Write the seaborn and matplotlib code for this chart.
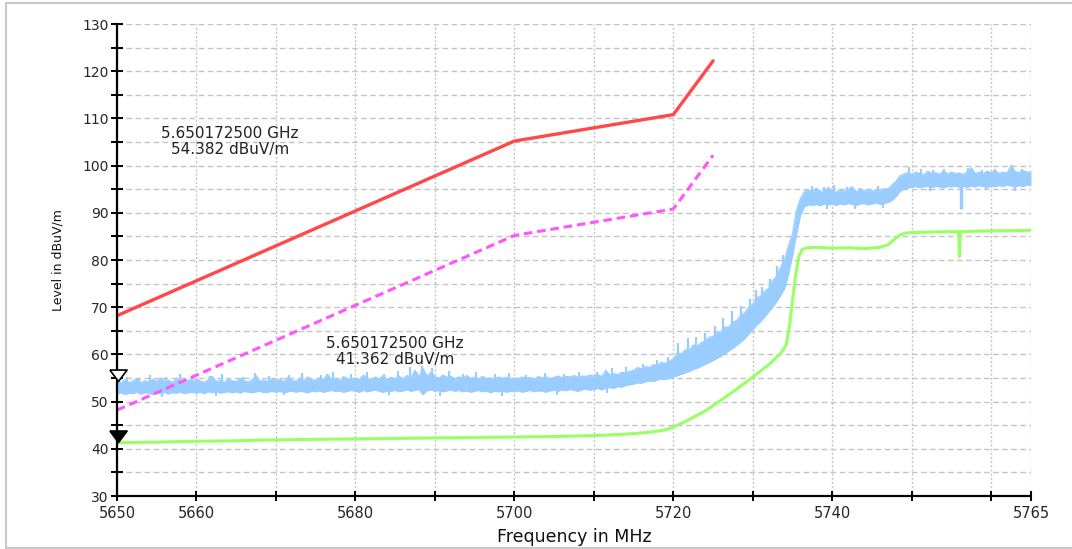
import numpy as np
import pandas as pd
import matplotlib
matplotlib.use("Agg")
import matplotlib.pyplot as plt
from matplotlib.lines import Line2D
from matplotlib.ticker import FixedLocator, MultipleLocator
import seaborn as sns

# ---- limit lines (peak / average) ----
limit_freq = [5650, 5700, 5720, 5725]
peak_limit = [68.2, 105.2, 110.8, 122.2]
avg_limit = [48.2, 85.2, 90.8, 102.2]

# ---- peak detector trace: upper / lower envelope, 0.5 MHz steps 5650..5765 MHz ----
peak_freq = np.arange(5650.0, 5765.01, 0.5)
peak_hi = [
    54.2, 53.9, 54.6, 54.0, 54.3, 54.8, 53.9, 54.4, 54.1, 54.7,
    54.3, 55.0, 54.2, 54.5, 54.0, 54.9, 54.3, 54.1, 54.6, 54.2,
    54.8, 54.3, 54.1, 54.6, 55.3, 54.2, 54.5, 54.0, 54.7, 54.4,
    54.2, 54.9, 54.4, 54.1, 54.6, 55.5, 54.3, 54.5, 54.2, 54.8,
    54.4, 54.7, 54.2, 55.1, 54.5, 54.3, 54.9, 54.4, 55.2, 54.6,
    54.5, 55.0, 54.7, 55.8, 54.6, 54.9, 54.4, 55.3, 54.8, 54.6,
    55.0, 54.7, 55.6, 54.9, 54.6, 55.2, 54.8, 55.4, 54.7, 55.1,
    54.9, 55.3, 54.8, 55.5, 55.0, 56.6, 55.2, 57.0, 55.4, 56.2,
    55.3, 54.9, 55.6, 55.1, 55.4, 54.8, 55.2, 55.0, 55.5, 54.9,
    55.1, 54.8, 55.3, 54.9, 55.0, 54.7, 55.2, 54.9, 55.1, 54.8,
    55.0, 54.8, 55.2, 54.9, 55.1, 54.7, 55.3, 55.0, 55.2, 54.9,
    55.1, 55.4, 55.0, 55.3, 55.2, 55.5, 55.1, 55.4, 55.3, 55.6,
    55.4, 55.7, 55.3, 56.6, 55.6, 55.9, 55.7, 56.2, 56.0, 56.4,
    56.6, 57.2, 56.9, 57.4, 57.2, 57.8, 57.6, 58.3, 58.0, 58.6,
    59.0, 60.4, 60.0, 61.0, 60.8, 62.0, 61.6, 62.5, 62.8, 63.6,
    63.8, 64.6, 64.8, 65.8, 65.8, 66.8, 67.2, 68.3, 68.8, 70.0,
    70.6, 72.0, 72.3, 73.4, 74.0, 75.6, 76.6, 78.4, 80.0, 83.0,
    85.5, 90.5, 93.0, 94.5, 94.8, 94.3, 95.2, 94.5, 94.2, 95.4,
    94.6, 94.3, 95.0, 94.5, 94.9, 95.5, 94.4, 94.8, 94.6, 95.0,
    94.5, 94.9, 94.6, 95.1, 95.0, 95.9, 96.6, 97.8, 98.2, 98.5,
    98.1, 98.6, 98.3, 98.0, 98.8, 98.3, 98.5, 98.1, 98.9, 98.2,
    98.6, 98.3, 98.4, 98.1, 98.7, 99.5, 98.3, 98.6, 98.2, 98.8,
    98.5, 98.9, 98.3, 98.6, 98.4, 100.0, 98.7, 98.5, 98.9, 98.6,
    98.7,
]
peak_lo = [
    51.6, 51.9, 51.5, 51.8, 51.7, 52.0, 51.6, 51.9, 51.8, 51.5,
    51.9, 51.7, 52.0, 51.6, 51.9, 51.8, 52.1, 51.7, 51.9, 52.0,
    51.8, 52.0, 51.7, 52.1, 51.9, 52.2, 51.8, 52.0, 52.1, 51.9,
    52.1, 51.8, 52.2, 52.0, 51.9, 52.1, 52.2, 51.9, 52.0, 52.2,
    52.0, 52.2, 51.9, 52.1, 52.3, 52.0, 52.2, 52.1, 51.9, 52.2,
    52.1, 52.3, 52.0, 52.2, 52.4, 52.1, 52.3, 52.0, 52.2, 52.4,
    52.2, 52.0, 52.4, 52.1, 52.3, 52.5, 52.2, 52.0, 52.3, 52.2,
    52.4, 52.1, 52.3, 52.5, 52.2, 52.4, 52.6, 51.5, 52.3, 52.5,
    52.2, 52.4, 52.1, 52.3, 52.5, 52.2, 52.4, 52.1, 52.3, 52.0,
    52.2, 52.4, 52.1, 52.3, 51.9, 52.2, 52.1, 52.3, 52.0, 52.2,
    52.1, 52.3, 52.0, 52.2, 52.4, 52.1, 52.3, 52.2, 52.0, 52.3,
    52.4, 52.2, 52.5, 52.3, 52.6, 52.4, 52.2, 52.5, 52.7, 52.4,
    52.6, 52.8, 52.5, 52.9, 53.0, 52.8, 53.2, 53.1, 53.4, 53.6,
    53.7, 54.0, 53.9, 54.2, 54.4, 54.3, 54.6, 54.8, 54.7, 55.0,
    55.2, 55.5, 55.8, 56.1, 56.4, 56.8, 57.1, 57.5, 57.9, 58.3,
    58.7, 59.2, 59.6, 60.2, 60.8, 61.3, 62.0, 62.6, 63.4, 64.3,
    65.3, 66.2, 67.0, 68.0, 69.0, 70.0, 71.2, 72.5, 74.0, 77.0,
    81.0, 85.5, 89.5, 91.3, 91.7, 91.6, 91.8, 91.5, 91.9, 91.7,
    91.8, 91.6, 91.9, 91.7, 92.0, 91.8, 91.6, 91.9, 92.0, 91.7,
    91.9, 92.1, 91.8, 92.0, 92.2, 92.6, 93.4, 94.5, 95.0, 95.3,
    95.4, 95.6, 95.3, 95.5, 95.7, 95.4, 95.6, 95.5, 95.3, 95.6,
    95.5, 95.7, 95.4, 95.6, 95.4, 95.7, 95.5, 95.8, 95.6, 95.4,
    95.7, 95.5, 95.8, 95.6, 95.9, 95.7, 95.5, 95.8, 95.6, 95.9,
    95.8,
]

# single-sweep spikes above the peak envelope
spike_up_freq = [5651.3, 5652.8, 5654.1, 5656.2, 5657.9, 5659.4, 5661.7, 5663.2, 5665.8, 5667.4,
                 5669.1, 5671.6, 5673.3, 5675.7, 5677.2, 5679.5, 5681.4, 5683.6, 5685.3, 5686.9,
                 5688.4, 5689.6, 5691.8, 5693.5, 5695.2, 5697.6, 5699.3, 5701.5, 5703.8, 5706.2,
                 5708.1, 5710.4, 5712.3, 5714.1, 5716.2, 5717.9, 5719.3, 5720.6, 5721.8, 5722.9,
                 5724.0, 5725.2, 5726.3, 5727.4, 5728.5, 5729.6, 5730.4, 5731.2, 5732.1, 5733.0,
                 5733.8, 5737.4, 5738.9, 5740.2, 5741.9, 5743.5, 5745.8, 5749.6, 5751.2, 5752.7,
                 5754.0, 5757.1, 5758.8, 5760.5, 5762.6, 5763.9]
spike_up_level = [55.3, 55.0, 55.6, 55.2, 55.8, 55.1, 55.5, 55.9, 55.3, 56.0,
                  55.4, 55.7, 56.1, 55.6, 56.3, 55.8, 56.2, 55.9, 56.5, 57.4,
                  57.6, 57.2, 56.4, 55.9, 56.2, 55.8, 56.0, 55.7, 56.1, 55.9,
                  56.3, 56.2, 57.1, 57.3, 57.9, 58.9, 59.5, 62.4, 63.4, 63.6,
                  64.6, 66.0, 67.8, 69.3, 70.3, 71.8, 73.6, 74.2, 76.0, 78.8,
                  81.0, 95.6, 95.4, 95.9, 95.5, 95.2, 95.7, 99.6, 99.2, 99.0,
                  99.3, 99.4, 99.1, 99.3, 100.2, 99.2]
# single-sweep dips below the peak envelope
spike_down_freq = [5655.6, 5662.4, 5671.0, 5684.2, 5690.7, 5698.5, 5705.3, 5711.7,
                   5739.3, 5742.8, 5746.4, 5752.3, 5759.3, 5763.0]
spike_down_level = [51.0, 51.2, 51.3, 51.4, 51.2, 51.1, 51.4, 51.9,
                    90.8, 90.9, 91.0, 94.6, 94.8, 94.7]
# narrow notch in the peak trace
notch_freq = 5756.2
notch_level = 90.8

# ---- average detector trace ----
avg_freq = [5650, 5655, 5660, 5665, 5670, 5675, 5680, 5685, 5690, 5695,
            5700, 5705, 5710, 5714, 5717, 5719, 5720, 5722, 5724, 5726,
            5728, 5730, 5732, 5733.5, 5734.2, 5734.6, 5735.0, 5735.4, 5735.8, 5736.2,
            5736.8, 5738, 5740, 5742, 5744, 5746, 5747, 5747.8, 5748.5, 5749.2,
            5750, 5752, 5754, 5755.9, 5756.0, 5756.1, 5758, 5760, 5762, 5765]
avg_level = [41.3, 41.4, 41.6, 41.7, 41.9, 42.0, 42.1, 42.2, 42.3, 42.4,
             42.5, 42.6, 42.8, 43.1, 43.5, 44.0, 44.6, 46.2, 48.0, 50.3,
             52.7, 55.2, 57.8, 60.2, 62.0, 66.0, 71.5, 77.0, 80.8, 82.2,
             82.6, 82.7, 82.5, 82.6, 82.4, 82.7, 83.2, 84.4, 85.3, 85.7,
             85.8, 85.9, 86.0, 86.0, 80.7, 86.0, 86.1, 86.2, 86.2, 86.3]

# ---- markers ----
marker_freq = 5650.1725
marker_peak = 54.382
marker_avg = 41.362
marker_peak_text = "5.650172500 GHz\n54.382 dBuV/m"
marker_avg_text = "5.650172500 GHz\n41.362 dBuV/m"

x_ticks = [5650, 5660, 5670, 5680, 5690, 5700, 5710, 5720, 5730, 5740, 5750, 5760, 5765]
x_tick_labels = ["5650", "5660", "", "5680", "", "5700", "", "5720", "", "5740", "", "", "5765"]
y_ticks = [30, 40, 50, 60, 70, 80, 90, 100, 110, 120, 130]

sns.set_theme(style="white")
plt.rcParams["font.family"] = ["DejaVu Sans"]

fig = plt.figure(figsize=(10.72, 5.49), dpi=100)
ax = fig.add_axes([117 / 1072, 1 - 496 / 549, 914 / 1072, 472 / 549])

peak_df = pd.DataFrame({"freq": peak_freq, "hi": peak_hi, "lo": peak_lo})
avg_df = pd.DataFrame({"freq": avg_freq, "level": avg_level})
plim_df = pd.DataFrame({"freq": limit_freq, "level": peak_limit})
alim_df = pd.DataFrame({"freq": limit_freq, "level": avg_limit})

peak_color = "#99ccff"
ax.fill_between(peak_df["freq"], peak_df["lo"], peak_df["hi"], color=peak_color,
                lw=0, zorder=3)
sns.lineplot(data=peak_df, x="freq", y="hi", ax=ax, color=peak_color,
             lw=1.0, sort=False, estimator=None, zorder=3)
sns.lineplot(data=peak_df, x="freq", y="lo", ax=ax, color=peak_color,
             lw=1.0, sort=False, estimator=None, zorder=3)
# spikes start inside the band and run out to their own level
up_base = np.interp(spike_up_freq, peak_freq, peak_lo)
down_base = np.interp(spike_down_freq, peak_freq, peak_hi)
ax.vlines(spike_up_freq, up_base, spike_up_level, color=peak_color, lw=1.6, zorder=3)
ax.vlines(spike_down_freq, spike_down_level, down_base, color=peak_color, lw=1.6, zorder=3)
ax.vlines([notch_freq], [notch_level], np.interp([notch_freq], peak_freq, peak_hi),
          color=peak_color, lw=2.4, zorder=3)

sns.lineplot(data=avg_df, x="freq", y="level", ax=ax, color="#99ff66",
             lw=2.2, sort=False, estimator=None, zorder=4)
sns.lineplot(data=alim_df, x="freq", y="level", ax=ax, color="#ff55ff",
             lw=2.2, sort=False, estimator=None, zorder=5)
ax.lines[-1].set_linestyle((0, (2.8, 1.6)))
sns.lineplot(data=plim_df, x="freq", y="level", ax=ax, color="#ff4848",
             lw=2.4, sort=False, estimator=None, zorder=6)

# triangle marker with its tip on the data point
tri = [(-0.75, 1.0), (0.75, 1.0), (0.0, 0.0), (-0.75, 1.0)]
ax.plot([marker_freq], [marker_peak], marker=tri, ms=16.5, mfc="white",
        mec="black", mew=1.2, ls="none", zorder=8, clip_on=False)
ax.plot([marker_freq], [marker_avg], marker=tri, ms=16.5, mfc="black",
        mec="black", mew=1.2, ls="none", zorder=8, clip_on=False)

ax.text(5664.2, 105.1, marker_peak_text, ha="center", va="center",
        fontsize=11, linespacing=1.05, color="#222222", zorder=9)
ax.text(5685.0, 60.6, marker_avg_text, ha="center", va="center",
        fontsize=11, linespacing=1.05, color="#222222", zorder=9)

ax.set_xlim(5650, 5765)
ax.set_ylim(30, 130)
ax.xaxis.set_major_locator(FixedLocator(x_ticks))
ax.set_xticklabels(x_tick_labels)
ax.yaxis.set_major_locator(FixedLocator(y_ticks))
ax.yaxis.set_minor_locator(MultipleLocator(5))

ax.grid(True, axis="y", which="both", color="#c4c4c4", lw=1.0, ls=(0, (4, 2.5)))
ax.grid(True, axis="x", which="major", color="#c4c4c4", lw=1.0, ls=(0, (1.5, 1.5)))
ax.set_axisbelow(True)

for s in ["top", "right"]:
    ax.spines[s].set_visible(False)
for s in ["left", "bottom"]:
    ax.spines[s].set_color("black")
    ax.spines[s].set_linewidth(1.6)
    ax.spines[s].set_zorder(7)

ax.tick_params(axis="y", which="both", direction="inout", length=8, width=1.4,
               color="black", labelsize=10, pad=2, left=True)
ax.tick_params(axis="x", which="major", direction="inout", length=7, width=1.4,
               color="black", labelsize=10.5, pad=4, bottom=True)

ax.set_xlabel("Frequency in MHz", fontsize=12.5, color="#111111")
ax.set_ylabel("Level in dBuV/m", fontsize=9, color="#111111")
ax.xaxis.set_label_coords(0.5005, -0.068)
ax.yaxis.set_label_coords(-0.057, 0.5)

# light outer frame
frame_kw = dict(color="#c8c8c8", lw=1.5, transform=fig.transFigure)
fig.add_artist(Line2D([6 / 1072, 1.0], [1 - 3 / 549, 1 - 3 / 549], **frame_kw))
fig.add_artist(Line2D([6 / 1072, 6 / 1072], [1 / 549, 1 - 3 / 549], **frame_kw))
fig.add_artist(Line2D([6 / 1072, 1.0], [1 / 549, 1 / 549], **frame_kw))

fig.savefig("out.png", dpi=100)
